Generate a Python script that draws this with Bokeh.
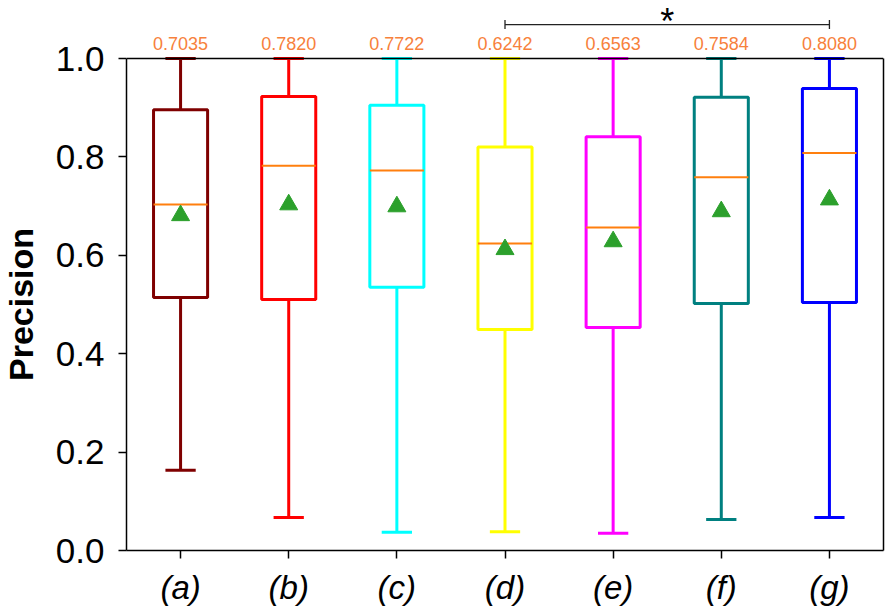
from bokeh.plotting import figure
from bokeh.layouts import row
from bokeh.models import (ColumnDataSource, FixedTicker, Label, Arrow, Span, LinearAxis,
                          TeeHead, Range1d, PrintfTickFormatter)
from bokeh.embed import file_html
from bokeh.resources import INLINE
from bokeh.core.properties import value
import math

# ---- data ----
categories = ["(a)", "(b)", "(c)", "(d)", "(e)", "(f)", "(g)"]
whisker_low = [0.163, 0.067, 0.037, 0.038, 0.035, 0.063, 0.067]
q1 = [0.514, 0.510, 0.535, 0.449, 0.453, 0.502, 0.504]
medians = [0.7035, 0.7820, 0.7722, 0.6242, 0.6563, 0.7584, 0.8080]
q3 = [0.896, 0.923, 0.905, 0.820, 0.841, 0.921, 0.939]
whisker_high = [1.0, 1.0, 1.0, 1.0, 1.0, 1.0, 1.0]
means = [0.681, 0.703, 0.699, 0.612, 0.628, 0.689, 0.713]
box_colors = ["#7f0000", "#ff0000", "#00ffff", "#ffff00", "#ff00ff", "#008080", "#0000ff"]
y_ticks = [0.0, 0.2, 0.4, 0.6, 0.8, 1.0]
y_label = "Precision"
sig_pair = ("(d)", "(g)")
sig_text = "*"

FONT = "Liberation Sans"
BOX_HALF = 0.25
CAP_HALF = 0.14
FRAME_W = 757          # width of the plotting box
UNIT_PX = 492          # pixels per 1.0 of precision
TOP_PX = 58            # space above the box for labels / bracket
BOTTOM_PX = 58
LABEL_W = 44
LEFT_PX = 126 - LABEL_W

ymin, ymax = y_ticks[0], y_ticks[-1]
y_top = ymax + TOP_PX / UNIT_PX

xs = [i + 1 for i in range(len(categories))]
src = ColumnDataSource(dict(
    x=xs,
    left=[x - BOX_HALF for x in xs],
    right=[x + BOX_HALF for x in xs],
    cap_l=[x - CAP_HALF for x in xs],
    cap_r=[x + CAP_HALF for x in xs],
    low=whisker_low, q1=q1, med=medians, q3=q3, high=whisker_high,
    mean=means, color=box_colors,
    med_txt=["%.4f" % m for m in medians],
))

x_range = Range1d(0.5, len(categories) + 0.5)

# ---------- main chart (frame extends above 1.0 to hold the annotations) ----------
p = figure(frame_width=FRAME_W, frame_height=UNIT_PX + TOP_PX,
           x_range=x_range, y_range=Range1d(ymin, y_top),
           output_backend="svg", toolbar_location=None,
           min_border_left=LEFT_PX, min_border_top=0, min_border_right=2,
           min_border_bottom=BOTTOM_PX)
p.background_fill_color = "white"
p.border_fill_color = "white"
p.outline_line_color = None
p.xgrid.visible = False
p.ygrid.visible = False

p.quad(left="left", right="right", bottom="q1", top="q3", source=src,
       fill_color=None, line_color="color", line_width=3)
p.segment(x0="x", y0="q3", x1="x", y1="high", source=src, line_color="color", line_width=3)
p.segment(x0="x", y0="q1", x1="x", y1="low", source=src, line_color="color", line_width=3)
p.segment(x0="cap_l", y0="high", x1="cap_r", y1="high", source=src, line_color="color", line_width=3)
p.segment(x0="cap_l", y0="low", x1="cap_r", y1="low", source=src, line_color="color", line_width=3)
p.segment(x0="left", y0="med", x1="right", y1="med", source=src, line_color="#ff7f0e", line_width=2)
p.scatter(x="x", y="mean", source=src, marker="triangle", size=18,
          fill_color="#2ca02c", line_color="#2ca02c")

# top edge of the box
p.add_layout(Span(location=ymax, dimension="width", line_color="black", line_width=1.5))

# left axis
yax = p.left[0]
yax.bounds = (ymin, ymax)
yax.ticker = FixedTicker(ticks=y_ticks)
yax.formatter = PrintfTickFormatter(format="%.1f")
yax.major_label_text_font_size = "35px"
yax.major_label_standoff = 14

# right edge of the box
rax = LinearAxis(bounds=(ymin, ymax), ticker=FixedTicker(ticks=[]),
                 axis_line_color="black", axis_line_width=1.5,
                 major_tick_line_color=None, minor_tick_line_color=None,
                 major_label_text_font_size="0px")
p.add_layout(rax, "right")

xax = p.below[0]
xax.ticker = FixedTicker(ticks=xs)
xax.major_label_overrides = {x: c for x, c in zip(xs, categories)}
xax.major_label_text_font_size = "33px"
xax.major_label_text_font_style = "italic"
xax.major_label_standoff = 10

for ax in (xax, yax):
    ax.major_tick_in = 0
    ax.major_tick_out = 8
    ax.minor_tick_line_color = None
    ax.major_tick_line_width = 1.5
    ax.axis_line_width = 1.5
    ax.axis_line_color = "black"
    ax.major_label_text_font = FONT
    ax.major_label_text_color = "black"

# median values above the box
p.text(x="x", y=ymax + 0.0295, text="med_txt", source=src,
       text_align="center", text_baseline="middle",
       text_font=value(FONT), text_font_size="18px", text_color="#f7813c")

# significance bracket
xa = categories.index(sig_pair[0]) + 1
xb = categories.index(sig_pair[1]) + 1
p.add_layout(Arrow(x_start=xa, y_start=ymax + 0.069, x_end=xb, y_end=ymax + 0.069,
                   line_color="#222222", line_width=1.3,
                   start=TeeHead(size=9, line_color="#222222", line_width=1.3),
                   end=TeeHead(size=9, line_color="#222222", line_width=1.3)))
p.add_layout(Label(x=(xa + xb) / 2, y=y_top - 0.5 / UNIT_PX, text=sig_text,
                   text_align="center", text_baseline="top", text_font=FONT,
                   text_font_size="36px", text_color="black"))

# ---------- y-axis title strip, on the same vertical scale ----------
lab = figure(frame_width=LABEL_W, frame_height=UNIT_PX + TOP_PX + BOTTOM_PX,
             x_range=Range1d(0, LABEL_W),
             y_range=Range1d(ymin - BOTTOM_PX / UNIT_PX, y_top),
             output_backend="svg", toolbar_location=None,
             x_axis_location=None, y_axis_location=None,
             min_border_left=0, min_border_right=0, min_border_top=0, min_border_bottom=0)
lab.outline_line_color = None
lab.xgrid.visible = False
lab.ygrid.visible = False
lab.background_fill_color = "white"
lab.border_fill_color = "white"
lab.text(x=[20], y=[(ymin + ymax) / 2], text=[y_label], angle=math.pi / 2,
         text_align="center", text_baseline="middle",
         text_font=value(FONT), text_font_style="bold", text_font_size="34px",
         text_color="black")

layout = row(lab, p, spacing=0)
open("out.html", "w").write(file_html(layout, INLINE))
